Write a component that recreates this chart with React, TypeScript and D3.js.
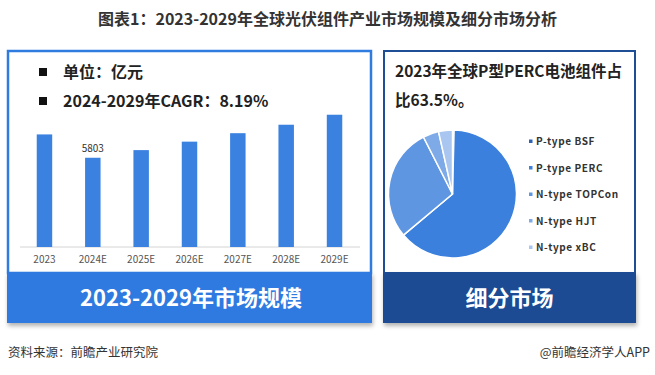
import React from "react";
import * as d3 from "d3";

const years = ["2023", "2024E", "2025E", "2026E", "2027E", "2028E", "2029E"];
const marketSize = [7320, 5803, 6300, 6850, 7400, 7950, 8600];
const labeledIndex = [1];

const pieLabels = ["P-type BSF", "P-type PERC", "N-type TOPCon", "N-type HJT", "N-type xBC"];
const pieValues = [0.4, 63.5, 28.6, 4.0, 3.5];
const pieColors = ["#2c62b3", "#3b80dd", "#5f96e2", "#7eabe8", "#a8c6f0"];

const FONT = "'Noto Sans CJK SC', 'Noto Sans', sans-serif";

export default function App() {
  const W = 655, H = 375;
  const x = d3.scaleBand<string>().domain(years).range([20.3, 358.7]).paddingInner(0.68).paddingOuter(0.34);
  const y = d3.scaleLinear().domain([0, 10000]).range([247, 93.2]);

  const pie = d3.pie<number>().sort(null).value((d) => d)(pieValues);
  const arc = d3.arc<d3.PieArcDatum<number>>().innerRadius(0).outerRadius(64);
  const cx = 452.5, cy = 194;

  return (
    <svg width={W} height={H} style={{ position: "absolute", left: 0, top: 0, background: "#fff" }} fontFamily={FONT}>
      <defs>
        <filter id="sh" x="-5%" y="-10%" width="110%" height="140%">
          <feDropShadow dx="1" dy="3" stdDeviation="2" floodColor="#000" floodOpacity="0.3" />
        </filter>
      </defs>
      <rect width={W} height={H} fill="#fff" />
      <text x={327.5} y={25} textAnchor="middle" fontSize={16} fontWeight={700} fill="#333">
        图表1：2023-2029年全球光伏组件产业市场规模及细分市场分析
      </text>

      {/* Left panel */}
      <rect x={8} y={51} width={363} height={222} fill="#fff" stroke="#2f7be0" strokeWidth={2.5} />
      <rect x={7} y={272} width={365} height={51} fill="#2e7ae0" filter="url(#sh)" />
      <text x={191} y={306} textAnchor="middle" fontSize={22} fontWeight={700} fill="#fff">
        2023-2029年市场规模
      </text>

      <rect x={39} y={68} width={8} height={8} fill="#111" />
      <text x={63} y={78} fontSize={16} fontWeight={600} fill="#222">单位：亿元</text>
      <rect x={39} y={97} width={8} height={8} fill="#111" />
      <text x={63} y={107} fontSize={16} fontWeight={600} fill="#222">2024-2029年CAGR：8.19%</text>

      <line x1={20} x2={360} y1={247} y2={247} stroke="#d4d4d4" strokeWidth={1} />
      {years.map((yr, i) => (
        <g key={yr}>
          <rect x={x(yr)} y={y(marketSize[i])} width={x.bandwidth()} height={247 - y(marketSize[i])} fill="#3b82e0" />
          <text x={(x(yr) as number) + x.bandwidth() / 2} y={263} textAnchor="middle" fontSize={10} fill="#555">{yr}</text>
          {labeledIndex.includes(i) && (
            <text x={(x(yr) as number) + x.bandwidth() / 2} y={y(marketSize[i]) - 6} textAnchor="middle" fontSize={10} fill="#333">
              {marketSize[i]}
            </text>
          )}
        </g>
      ))}

      {/* Right panel */}
      <rect x={384} y={51} width={251} height={222} fill="#fff" stroke="#1f4e96" strokeWidth={2} />
      <rect x={383} y={272} width={253} height={51} fill="#1b4c94" filter="url(#sh)" />
      <text x={509.5} y={306} textAnchor="middle" fontSize={22} fontWeight={700} fill="#fff">细分市场</text>

      <text x={395} y={77} fontSize={15.5} fontWeight={700} fill="#222">2023年全球P型PERC电池组件占</text>
      <text x={395} y={106} fontSize={15.5} fontWeight={700} fill="#222">比63.5%。</text>

      <g transform={`translate(${cx},${cy})`}>
        {pie.map((p, i) => (
          <path key={i} d={arc(p) as string} fill={pieColors[i]} stroke="#fff" strokeWidth={1.5} />
        ))}
      </g>

      {pieLabels.map((l, i) => (
        <g key={l}>
          <rect x={529} y={139.5 + i * 26.5} width={3.5} height={3.5} fill={pieColors[i]} />
          <text x={536} y={145 + i * 26.5} fontSize={10} fontWeight={600} letterSpacing={0.6} fill="#333">{l}</text>
        </g>
      ))}

      <text x={8} y={357} fontSize={12.5} fill="#333">资料来源：前瞻产业研究院</text>
      <text x={650} y={357} textAnchor="end" fontSize={12.5} fill="#333">@前瞻经济学人APP</text>
    </svg>
  );
}
